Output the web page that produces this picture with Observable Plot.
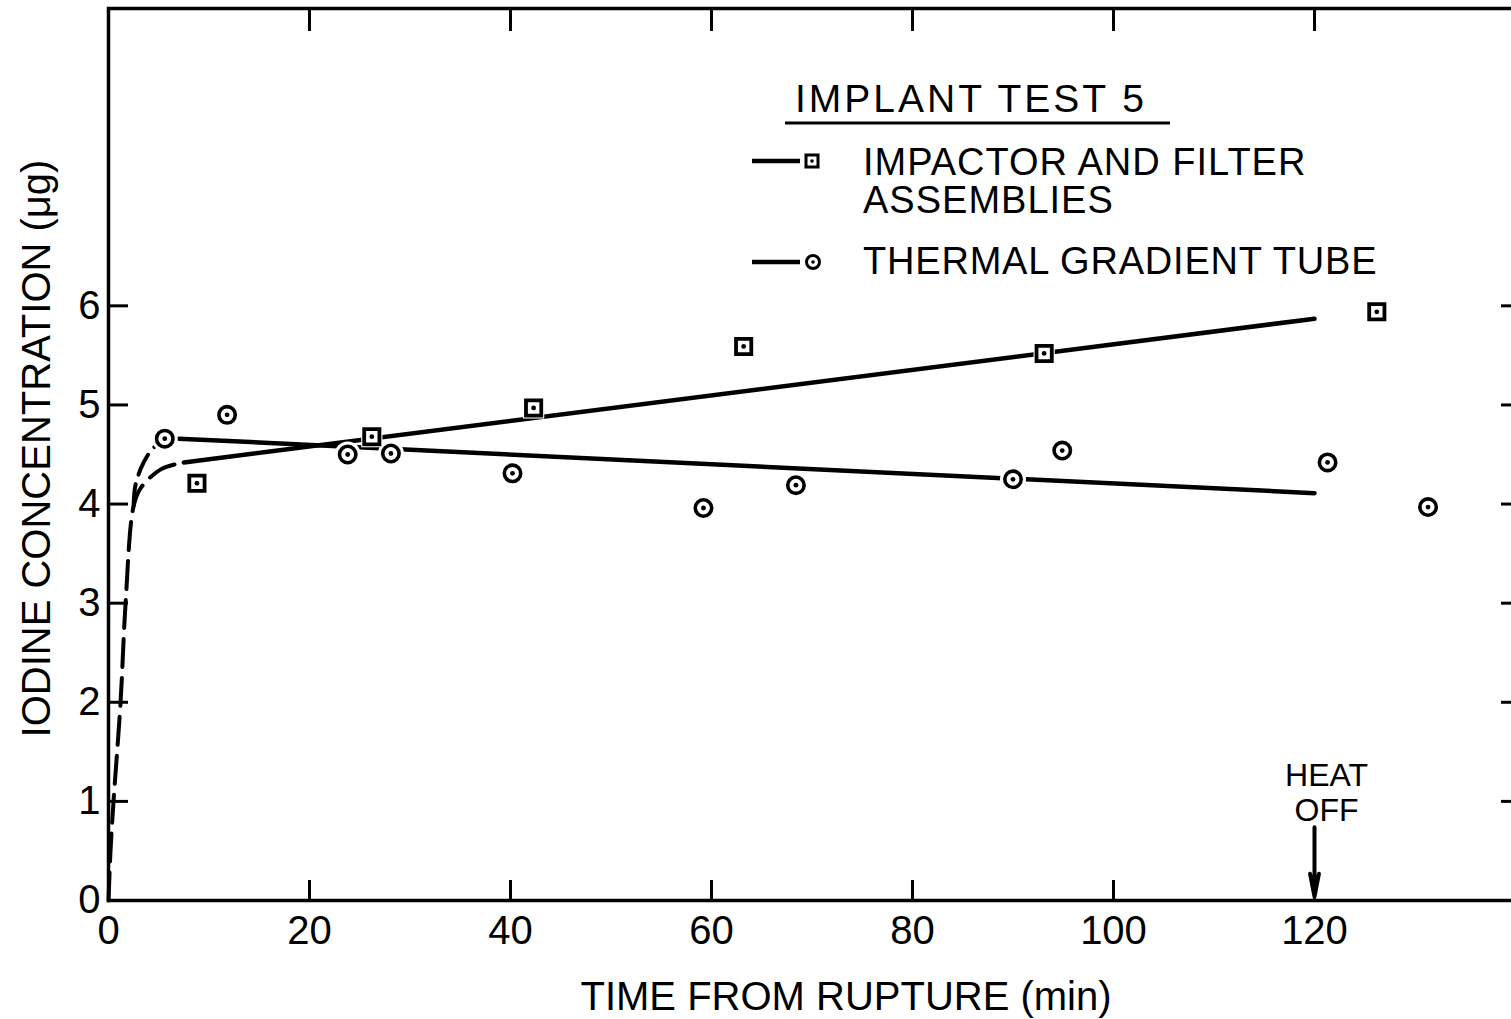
<!DOCTYPE html>
<html>
<head>
<meta charset="utf-8">
<script src="https://cdn.jsdelivr.net/npm/d3@7"></script>
<script src="https://cdn.jsdelivr.net/npm/@observablehq/plot@0.6"></script>
<style>
  html, body { margin: 0; padding: 0; background: #fff; }
  #wrap { position: relative; width: 1511px; height: 1019px; overflow: hidden; background: #fff; }
  #wrap svg { display: block; }
  #legend { position: absolute; left: 0; top: 0; pointer-events: none; }
</style>
</head>
<body>
<div id="wrap"></div>
<script>
// ---- data ----
const impactorTime = [8.8, 26.2, 42.3, 63.2, 93.1, 126.2];
const impactorConc = [4.21, 4.68, 4.97, 5.59, 5.52, 5.94];

const thermalTime = [5.6, 11.8, 23.8, 28.1, 40.2, 59.2, 68.4, 90.0, 94.9, 121.3, 131.3];
const thermalConc = [4.66, 4.90, 4.50, 4.51, 4.31, 3.96, 4.19, 4.25, 4.54, 4.42, 3.97];

// hand-drawn fit curves
const impactorDashTime = [0, 0.2, 0.5, 1.2, 1.7, 2.5, 3.2, 5.2, 7.5];
const impactorDashConc = [0, 0.5, 1.0, 2.0, 3.0, 3.98, 4.16, 4.35, 4.42];
const impactorSolidTime = [7.5, 120];
const impactorSolidConc = [4.42, 5.87];

const thermalDashTime = [2.5, 2.7, 3.5, 4.5, 5.3];
const thermalDashConc = [3.98, 4.2, 4.42, 4.57, 4.62];
const thermalSolidTime = [7.0, 120];
const thermalSolidConc = [4.66, 4.11];

const xTicks = [0, 20, 40, 60, 80, 100, 120];
const xTopTicks = [20, 40, 60, 80, 100, 120];
const yTicks = [0, 1, 2, 3, 4, 5, 6];
const yRightTicks = [1, 2, 3, 4, 5, 6];

const heatOffTime = [120];
const heatOffLabel = ["HEAT\nOFF"];
const heatOffArrowFrom = [0.74];
const heatOffArrowTo = [0.04];

const xLabel = "TIME FROM RUPTURE (min)";
const yLabel = "IODINE CONCENTRATION (\u03BCg)";
const legendTitle = "IMPLANT TEST 5";
const legendImpactor = ["IMPACTOR AND FILTER", "ASSEMBLIES"];
const legendThermal = "THERMAL GRADIENT TUBE";

// ---- tables ----
const zipPts = (xs, ys) => xs.map((x, i) => ({x, y: ys[i]}));
const impactor = zipPts(impactorTime, impactorConc);
const thermal = zipPts(thermalTime, thermalConc);
const impDash = zipPts(impactorDashTime, impactorDashConc);
const impSolid = zipPts(impactorSolidTime, impactorSolidConc);
const thDash = zipPts(thermalDashTime, thermalDashConc);
const thSolid = zipPts(thermalSolidTime, thermalSolidConc);
const heat = heatOffTime.map((t, i) => ({t, label: heatOffLabel[i], y1: heatOffArrowFrom[i], y2: heatOffArrowTo[i]}));

const FONT = "'Liberation Sans', Arial, Helvetica, sans-serif";

const plot = Plot.plot({
  width: 1511,
  height: 1019,
  marginLeft: 108,
  marginRight: -4,
  marginTop: 8,
  marginBottom: 119,
  x: {domain: [0, 140]},
  y: {domain: [0, 9]},
  style: {fontFamily: FONT, fontSize: "39px", color: "#000", background: "#fff", overflow: "hidden"},
  marks: [
    // axes
    Plot.axisX(xTicks, {anchor: "bottom", tickSize: -20, tickPadding: 35, strokeWidth: 3, fontSize: 40, tickFormat: "d", label: null}),
    Plot.axisX(xTopTicks, {anchor: "top", tickSize: -22, tickFormat: () => "", strokeWidth: 3, label: null}),
    Plot.axisY(yTicks, {anchor: "left", tickSize: -20, tickPadding: 28, strokeWidth: 3, fontSize: 40, tickFormat: "d", label: null}),
    Plot.axisY(yRightTicks, {anchor: "right", tickSize: -15, tickFormat: () => "", strokeWidth: 3, label: null}),
    Plot.frame({stroke: "#000", strokeWidth: 3.5}),
    Plot.text([xLabel], {frameAnchor: "bottom", textAnchor: "middle", dx: 34, dy: 97, fontSize: 40, lineAnchor: "middle"}),
    Plot.text([yLabel], {frameAnchor: "left", textAnchor: "middle", rotate: -90, dx: -71, dy: -6, fontSize: 40, lineAnchor: "middle"}),

    // fit curves
    Plot.line(impDash, {x: "x", y: "y", curve: "catmull-rom", stroke: "#000", strokeWidth: 4, strokeDasharray: "28,11"}),
    Plot.line(thDash, {x: "x", y: "y", curve: "catmull-rom", stroke: "#000", strokeWidth: 4, strokeDasharray: "22,10"}),
    Plot.line(impSolid, {x: "x", y: "y", stroke: "#000", strokeWidth: 4.5}),
    Plot.line(thSolid, {x: "x", y: "y", stroke: "#000", strokeWidth: 4.5}),

    // white halos around markers (break the lines)
    Plot.dot(impactor, {x: "x", y: "y", symbol: "square", r: 12, fill: "#fff"}),
    Plot.dot(thermal, {x: "x", y: "y", r: 13, fill: "#fff"}),

    // markers
    Plot.dot(impactor, {x: "x", y: "y", symbol: "square", r: 8.6, fill: "#fff", stroke: "#000", strokeWidth: 3.8}),
    Plot.dot(thermal, {x: "x", y: "y", r: 8.2, fill: "#fff", stroke: "#000", strokeWidth: 3.6}),
    Plot.dot(impactor, {x: "x", y: "y", r: 2.4, fill: "#000"}),
    Plot.dot(thermal, {x: "x", y: "y", r: 2.4, fill: "#000"}),

    // heat off annotation
    Plot.arrow(heat, {x1: "t", x2: "t", y1: "y1", y2: "y2", stroke: "#000", strokeWidth: 4, headAngle: 22, headLength: 28}),
    Plot.text(heat, {x: "t", y: "y1", text: "label", dx: 12, dy: -6, lineAnchor: "bottom", fontSize: 32, lineHeight: 1.1})
  ]
});

const wrap = document.getElementById("wrap");
wrap.appendChild(plot);

// ---- legend overlay (inside the plot area, upper right) ----
const lg = d3.select(wrap).append("svg")
  .attr("id", "legend")
  .attr("width", 1511).attr("height", 1019)
  .style("font-family", FONT);

lg.append("text").attr("x", 795).attr("y", 112)
  .attr("font-size", 39).attr("letter-spacing", 3).text(legendTitle);
lg.append("line").attr("x1", 785).attr("x2", 1170).attr("y1", 123).attr("y2", 123)
  .attr("stroke", "#000").attr("stroke-width", 3);

function legendSymbol(cy, kind) {
  lg.append("line").attr("x1", 752).attr("x2", 800).attr("y1", cy).attr("y2", cy)
    .attr("stroke", "#000").attr("stroke-width", 4.5);
  if (kind === "square") {
    lg.append("rect").attr("x", 806).attr("y", cy - 6).attr("width", 12).attr("height", 12)
      .attr("fill", "#fff").attr("stroke", "#000").attr("stroke-width", 3);
  } else {
    lg.append("circle").attr("cx", 813).attr("cy", cy).attr("r", 6.5)
      .attr("fill", "#fff").attr("stroke", "#000").attr("stroke-width", 3);
  }
  lg.append("circle").attr("cx", kind === "square" ? 812 : 813).attr("cy", cy).attr("r", 1.8).attr("fill", "#000");
}
legendSymbol(161, "square");
legendSymbol(262, "circle");

lg.append("text").attr("x", 863).attr("y", 175).attr("font-size", 38).attr("letter-spacing", 1).text(legendImpactor[0]);
lg.append("text").attr("x", 863).attr("y", 213).attr("font-size", 38).attr("letter-spacing", 1).text(legendImpactor[1]);
lg.append("text").attr("x", 863).attr("y", 274).attr("font-size", 38).attr("letter-spacing", 0.8).text(legendThermal);
</script>
</body>
</html>
